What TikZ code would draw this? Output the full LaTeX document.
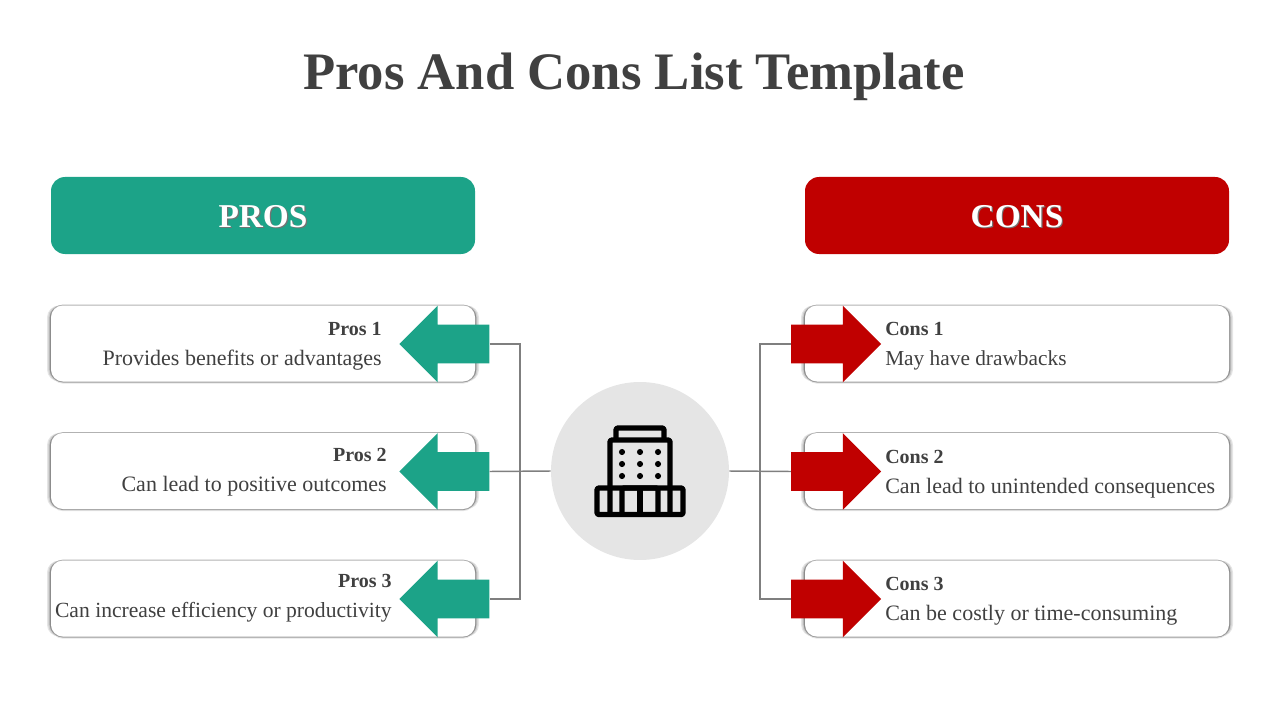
\documentclass[tikz,border=0pt]{standalone}
\usepackage{fontspec}
\setmainfont{Liberation Serif}
\usepackage{tikz}
\usetikzlibrary{shapes.arrows,positioning,calc}
\definecolor{prosgreen}{HTML}{1CA388}
\definecolor{consred}{HTML}{C00000}
\definecolor{inktext}{HTML}{404040}
\definecolor{linkgray}{HTML}{7F7F7F}
\definecolor{hubgray}{HTML}{E5E5E5}
\newcommand{\softtext}[1]{\raisebox{-1.5pt}[\height][\depth]{\rlap{\kern0.9pt\raisebox{-0.9pt}{\textcolor{black!55}{#1}}}#1}}

\begin{document}
\begin{tikzpicture}[
    x=0.75pt, y=-0.75pt,
    node distance=38.25pt and 10pt,
    header/.style={rectangle, rounded corners=10.5pt, minimum width=318pt, minimum height=57.75pt,
                   text=white, font=\fontsize{25}{30}\selectfont\bfseries},
    itembox/.style={rectangle, rounded corners=9pt, fill=white, minimum width=318pt, minimum height=57pt,
                    preaction={fill=black!10, transform canvas={xshift=-3pt}},
                    preaction={fill=black!10, transform canvas={xshift=3pt}},
                    preaction={fill=black!10, transform canvas={yshift=-1.6pt}},
                    preaction={fill=black!20, transform canvas={xshift=-2pt}},
                    preaction={fill=black!20, transform canvas={xshift=2pt}},
                    preaction={fill=black!45, transform canvas={xshift=-1pt}},
                    preaction={fill=black!45, transform canvas={xshift=1pt}},
                    preaction={fill=black!38, transform canvas={yshift=-0.8pt}},
                    preaction={fill=black!30, transform canvas={yshift=0.7pt}}},
    arrowbase/.style={single arrow, inner sep=0pt, text width=0pt, text height=14.25pt, text depth=14.25pt,
                      minimum height=67.5pt,
                      single arrow head extend=14.25pt, single arrow head indent=0pt},
    proarrow/.style={arrowbase, fill=prosgreen, shape border rotate=180},
    conarrow/.style={arrowbase, fill=consred},
    protext/.style={anchor=east, align=right, text=inktext, inner sep=0pt, font=\fontsize{16.5}{22.5}\selectfont},
    context/.style={anchor=west, align=left, text=inktext, inner sep=0pt, font=\fontsize{16.5}{22.5}\selectfont},
    link/.style={draw=linkgray, line width=1.1pt},
    iconline/.style={draw=black, line width=3.9pt, rounded corners=1pt, line join=round},
    icondot/.style={fill=black}
]
    \useasboundingbox (0,0) rectangle (1280,720);

    \node [text=inktext, font=\fontsize{39.5}{46}\selectfont\bfseries] (title) at (634,77) {Pros And Cons List Template};

    \node [header, fill=prosgreen] (prohead) at (263,215.5) {\softtext{PROS}};
    \node [header, fill=consred]   (conhead) at (1017,215.5) {\softtext{CONS}};

    % left column
    \node [itembox] (probox1) at (263,343.5) {};
    \node [itembox, below=of probox1] (probox2) {};
    \node [itembox, below=of probox2] (probox3) {};
    % right column
    \node [itembox] (conbox1) at (1017,343.5) {};
    \node [itembox, below=of conbox1] (conbox2) {};
    \node [itembox, below=of conbox2] (conbox3) {};

    \node [protext] (protext1) at (382,346) {\textbf{\fontsize{15}{22.5}\selectfont Pros 1}\\Provides benefits or advantages};
    \node [protext] (protext2) at (387,472) {\textbf{\fontsize{15}{22.5}\selectfont Pros 2}\\Can lead to positive outcomes};
    \node [protext, font=\fontsize{16.2}{22.5}\selectfont] (protext3) at (392,598) {\textbf{\fontsize{15}{22.5}\selectfont Pros 3}\\Can increase efficiency or productivity};
    \node [context, font=\fontsize{16}{22.5}\selectfont] (context1) at (885,346) {\textbf{\fontsize{15}{22.5}\selectfont Cons 1}\\May have drawbacks};
    \node [context] (context2) at (885,474) {\textbf{\fontsize{15}{22.5}\selectfont Cons 2}\\Can lead to unintended consequences};
    \node [context] (context3) at (885,601) {\textbf{\fontsize{15}{22.5}\selectfont Cons 3}\\Can be costly or time-consuming};

    \node [proarrow] (proarrow1) at (454,344) {};
    \node [proarrow] (proarrow2) at (454,471.5) {};
    \node [proarrow] (proarrow3) at (454,599) {};
    \node [conarrow] (conarrow1) at (826.5,344) {};
    \node [conarrow] (conarrow2) at (826.5,471.5) {};
    \node [conarrow] (conarrow3) at (826.5,599) {};

    \node [circle, fill=hubgray, inner sep=0pt, minimum size=133.5pt] (hub) at (640,471) {};

    \coordinate (probus) at (520,471);
    \coordinate (conbus) at (760,471);

    \draw [link] (proarrow1.tail) -| (probus) |- (proarrow3.tail);
    \draw [link] (proarrow2.tail) -- (hub.west);
    \draw [link] (hub.east) -- (conarrow2.tail);
    \draw [link] (conarrow1.tail) -| (conbus) |- (conarrow3.tail);

    % building icon
    \draw [iconline] (616,438) -- (616,428) -- (664,428) -- (664,438);
    \draw [iconline] (610,514.5) -- (610,440) -- (670,440) -- (670,514.5);
    \draw [iconline] (597,488) rectangle (683,514.5);
    \draw [iconline] (622,514.5) -- (622,488) -- (658,488) -- (658,514.5);
    \draw [iconline] (640,488) -- (640,514.5);
    \foreach \dotx in {622,640,658}
        \foreach \doty in {452,464,476}
            \fill [icondot] (\dotx,\doty) circle (2.3pt);
\end{tikzpicture}
\end{document}
